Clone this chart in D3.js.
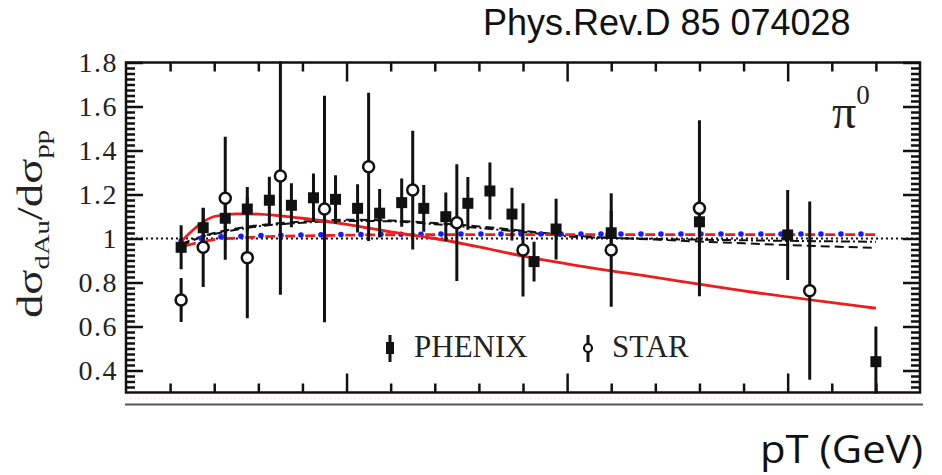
<!DOCTYPE html>
<html>
<head>
<meta charset="utf-8">
<script src="https://cdn.jsdelivr.net/npm/d3@7"></script>
<style>
body { margin: 0; background: #fff; }
svg { display: block; }
</style>
</head>
<body>
<div id="display"><svg width="942" height="475"></svg></div>
<script>
// PHENIX (filled squares) and STAR (open circles), pi0 R_dAu
var phenixX = [1.25, 1.75, 2.25, 2.75, 3.25, 3.75, 4.25, 4.75, 5.25, 5.75, 6.25, 6.75, 7.25, 7.75, 8.25, 8.75, 9.25, 9.75, 11, 13, 15, 17];
var phenixY = [0.96, 1.049, 1.092, 1.134, 1.174, 1.151, 1.185, 1.178, 1.137, 1.115, 1.163, 1.137, 1.099, 1.16, 1.216, 1.111, 0.895, 1.043, 1.026, 1.076, 1.016, 0.44];
var phenixErr = [0.10, 0.09, 0.10, 0.10, 0.107, 0.10, 0.11, 0.11, 0.11, 0.11, 0.11, 0.106, 0.11, 0.12, 0.13, 0.12, 0.09, 0.138, 0.10, 0.10, 0.205, 0.16];

var starX = [1.25, 1.75, 2.25, 2.75, 3.5, 4.5, 5.5, 6.5, 7.5, 9, 11, 13, 15.5];
var starY = [0.72, 0.96, 1.183, 0.913, 1.284, 1.134, 1.326, 1.22, 1.072, 0.948, 0.948, 1.137, 0.763];
var starErr = [0.10, 0.18, 0.28, 0.276, 0.54, 0.515, 0.337, 0.27, 0.265, 0.212, 0.258, 0.40, 0.405];

// model curves
var curveX = [1.25, 1.5, 1.75, 2, 2.5, 3, 3.5, 4, 5, 6, 7, 8, 9, 10, 12, 14, 17];
var redSolid = [0.985, 1.035, 1.075, 1.1, 1.112, 1.111, 1.103, 1.092, 1.064, 1.03, 1.0, 0.962, 0.92, 0.885, 0.823, 0.762, 0.683];
var redDashed = [0.962, 0.975, 0.987, 0.995, 1.002, 1.007, 1.01, 1.012, 1.015, 1.017, 1.017, 1.018, 1.018, 1.018, 1.018, 1.018, 1.018];
var blueDotted = [0.99, 0.997, 1.002, 1.006, 1.01, 1.013, 1.015, 1.016, 1.018, 1.019, 1.02, 1.02, 1.02, 1.02, 1.02, 1.02, 1.02];
var blackDashed = [0.965, 0.99, 1.01, 1.025, 1.045, 1.06, 1.07, 1.077, 1.085, 1.082, 1.07, 1.055, 1.035, 1.015, 0.995, 0.978, 0.957];
var blackDashDot = [0.975, 0.995, 1.01, 1.02, 1.04, 1.055, 1.065, 1.072, 1.08, 1.078, 1.065, 1.048, 1.03, 1.01, 0.998, 0.992, 0.985];

var yTickValues = [0.4, 0.6, 0.8, 1.0, 1.2, 1.4, 1.6, 1.8];
var yTickLabels = ["0.4", "0.6", "0.8", "1", "1.2", "1.4", "1.6", "1.8"];
var xMajorTicks = [5, 10, 15];
var xMinorTicks = [1, 2, 3, 4, 6, 7, 8, 9, 11, 12, 13, 14, 16, 17];

var L = 126, R = 920, T = 62.5, B = 392.5;
var serif = "'Liberation Serif', 'DejaVu Serif', serif";

var svg = d3.select("#display svg");
var x = d3.scaleLinear().domain([0, 18]).range([L, R]);
var y = d3.scaleLinear().domain([0.3, 1.8]).range([B, T]);

// reference text top right
svg.append("text").text("Phys.Rev.D 85 074028")
    .attr("x", 483).attr("y", 35)
    .attr("font-family", "'Liberation Sans', Arial, sans-serif")
    .attr("font-size", "36px").attr("fill", "#111");

svg.append("text").text("pT (GeV)")
    .attr("x", 760).attr("y", 463)
    .attr("textLength", 163).attr("lengthAdjust", "spacingAndGlyphs")
    .attr("font-family", "'Open Sans', 'Noto Sans', sans-serif")
    .attr("font-size", "38px").attr("fill", "#111");

// lines under the frame
svg.append("line").attr("x1", L).attr("x2", R + 2).attr("y1", 398).attr("y2", 398)
    .attr("stroke", "#f6dede").attr("stroke-width", 1).attr("stroke-dasharray", "2,2");
svg.append("line").attr("x1", L - 1).attr("x2", R + 3).attr("y1", 404.5).attr("y2", 404.5)
    .attr("stroke", "#555").attr("stroke-width", 2);

var plot = svg.append("g");
var clip = svg.append("clipPath").attr("id", "clip");
clip.append("rect").attr("x", L).attr("y", T - 1).attr("width", R - L).attr("height", B - T + 2);

// axes, ticks pointing inward
function noLabels() { return ""; }
plot.append("g").attr("transform", "translate(" + L + ",0)")
    .call(d3.axisLeft(y).tickValues(yTickValues).tickSize(-17).tickPadding(8)
        .tickFormat(function(d, i) { return yTickLabels[i]; }))
    .call(function(g) { g.select(".domain").remove(); });
var yMinor = d3.range(0.325, 1.8, 0.025).filter(function(v) {
    return Math.abs(v * 5 - Math.round(v * 5)) > 0.01;
});
plot.append("g").attr("transform", "translate(" + L + ",0)")
    .call(d3.axisLeft(y).tickValues(yMinor).tickSize(-9).tickFormat(noLabels))
    .call(function(g) { g.select(".domain").remove(); });
plot.append("g").attr("transform", "translate(" + R + ",0)")
    .call(d3.axisRight(y).tickValues(yTickValues).tickSize(-17).tickFormat(noLabels))
    .call(function(g) { g.select(".domain").remove(); });
plot.append("g").attr("transform", "translate(" + R + ",0)")
    .call(d3.axisRight(y).tickValues(yMinor).tickSize(-9).tickFormat(noLabels))
    .call(function(g) { g.select(".domain").remove(); });
plot.append("g").attr("transform", "translate(0," + T + ")")
    .call(d3.axisTop(x).tickValues(xMajorTicks).tickSize(-19).tickFormat(noLabels))
    .call(function(g) { g.select(".domain").remove(); });
plot.append("g").attr("transform", "translate(0," + T + ")")
    .call(d3.axisTop(x).tickValues(xMinorTicks).tickSize(-9).tickFormat(noLabels))
    .call(function(g) { g.select(".domain").remove(); });
plot.append("g").attr("transform", "translate(0," + B + ")")
    .call(d3.axisBottom(x).tickValues(xMajorTicks).tickSize(-19).tickFormat(noLabels))
    .call(function(g) { g.select(".domain").remove(); });
plot.append("g").attr("transform", "translate(0," + B + ")")
    .call(d3.axisBottom(x).tickValues(xMinorTicks).tickSize(-9).tickFormat(noLabels))
    .call(function(g) { g.select(".domain").remove(); });
plot.selectAll(".tick line").attr("stroke", "#111").attr("stroke-width", 2.5);
plot.selectAll(".tick text").attr("font-family", serif).attr("font-size", "28px")
    .attr("letter-spacing", "1.5px").attr("fill", "#222");

// reference line at 1
plot.append("line").attr("x1", L).attr("x2", R).attr("y1", y(1)).attr("y2", y(1))
    .attr("stroke", "#111").attr("stroke-width", 2).attr("stroke-dasharray", "2,3");

// curves
var line = d3.line().x(function(d) { return x(d[0]); }).y(function(d) { return y(d[1]); })
    .curve(d3.curveMonotoneX);
function curve(vals, color, width, dash, offset, cap) {
    plot.append("path").datum(d3.zip(curveX, vals))
        .attr("d", line).attr("fill", "none")
        .attr("stroke", color).attr("stroke-width", width)
        .attr("stroke-dasharray", dash).attr("stroke-dashoffset", offset || 0)
        .attr("stroke-linecap", cap || "butt");
}
curve(blackDashed, "#111", 2, "9,5");
curve(blackDashDot, "#111", 2, "9,3,2,3");
curve(redDashed, "#ee1c1c", 2.8, "10,10", 15);
curve(blueDotted, "#1a1aff", 5.5, "0.1,19.9", 0, "round");
curve(redSolid, "#ee1c1c", 2.8, null);

// error bars
var bars = plot.append("g").attr("clip-path", "url(#clip)");
bars.selectAll(".ep").data(d3.range(phenixX.length)).join("line").attr("class", "ep")
    .attr("x1", function(i) { return x(phenixX[i]); }).attr("x2", function(i) { return x(phenixX[i]); })
    .attr("y1", function(i) { return y(phenixY[i] - phenixErr[i]); })
    .attr("y2", function(i) { return y(phenixY[i] + phenixErr[i]); })
    .attr("stroke", "#111").attr("stroke-width", 3);
bars.selectAll(".es").data(d3.range(starX.length)).join("line").attr("class", "es")
    .attr("x1", function(i) { return x(starX[i]); }).attr("x2", function(i) { return x(starX[i]); })
    .attr("y1", function(i) { return y(starY[i] - starErr[i]); })
    .attr("y2", function(i) { return y(starY[i] + starErr[i]); })
    .attr("stroke", "#111").attr("stroke-width", 3);

// markers
plot.selectAll(".mp").data(d3.range(phenixX.length)).join("rect").attr("class", "mp")
    .attr("x", function(i) { return x(phenixX[i]) - 5.5; })
    .attr("y", function(i) { return y(phenixY[i]) - 5.5; })
    .attr("width", 11).attr("height", 11).attr("fill", "#111");
plot.selectAll(".ms").data(d3.range(starX.length)).join("circle").attr("class", "ms")
    .attr("cx", function(i) { return x(starX[i]); })
    .attr("cy", function(i) { return y(starY[i]); })
    .attr("r", 5.5).attr("fill", "#fff").attr("stroke", "#111").attr("stroke-width", 2.5);

// frame
plot.append("rect").attr("x", L).attr("y", T).attr("width", R - L).attr("height", B - T)
    .attr("fill", "none").attr("stroke", "#111").attr("stroke-width", 2.5);

// y title
var yt = svg.append("text").attr("transform", "translate(42,224) rotate(-90) scale(1.3,1)")
    .attr("text-anchor", "middle").attr("font-family", serif).attr("font-size", "36px").attr("fill", "#222");
yt.append("tspan").text("dσ");
yt.append("tspan").text("dAu").attr("font-size", "22px").attr("dy", 7);
yt.append("tspan").text("/dσ").attr("dy", -7);
yt.append("tspan").text("pp").attr("font-size", "22px").attr("dy", 7);

// pi0 label
var pl = svg.append("text").attr("x", 832).attr("y", 128)
    .attr("font-family", serif).attr("font-size", "48px").attr("fill", "#222");
pl.append("tspan").text("π");
pl.append("tspan").text("0").attr("font-size", "27px").attr("dy", -24);

// legend
var leg = svg.append("g").attr("font-family", serif).attr("font-size", "31px").attr("fill", "#222");
leg.append("line").attr("x1", 390).attr("x2", 390).attr("y1", 335).attr("y2", 362)
    .attr("stroke", "#111").attr("stroke-width", 3);
leg.append("rect").attr("x", 386).attr("y", 342).attr("width", 8).attr("height", 12).attr("fill", "#111");
leg.append("text").text("PHENIX").attr("x", 414).attr("y", 357);
leg.append("line").attr("x1", 588).attr("x2", 588).attr("y1", 335).attr("y2", 362)
    .attr("stroke", "#111").attr("stroke-width", 3);
leg.append("circle").attr("cx", 588).attr("cy", 348).attr("r", 4)
    .attr("fill", "#fff").attr("stroke", "#111").attr("stroke-width", 2.2);
leg.append("text").text("STAR").attr("x", 612).attr("y", 357);
</script>
</body>
</html>
